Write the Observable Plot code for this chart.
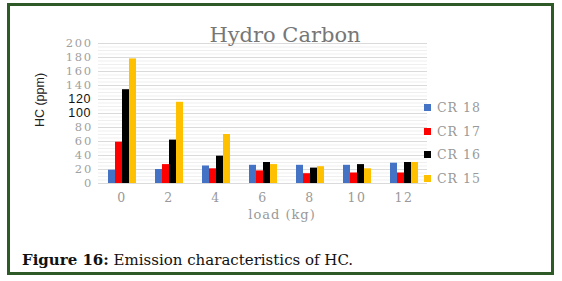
<!DOCTYPE html>
<html>
<head>
<meta charset="utf-8">
<script src="https://cdn.jsdelivr.net/npm/d3@7"></script>
<script src="https://cdn.jsdelivr.net/npm/@observablehq/plot@0.6"></script>
<style>
  html, body { margin: 0; padding: 0; background: #fff; }
  #wrap { position: relative; width: 562px; height: 281px; overflow: hidden; }
  #frame { position: absolute; left: 7px; top: 3px; width: 541px; height: 266px; border: 3px solid #2d5a27; box-sizing: content-box; }
  #title { position: absolute; left: 0; width: 570px; top: 23px; text-align: center; font-family: "DejaVu Serif", serif; font-size: 21px; color: #777; }
  #ytitle { position: absolute; left: 40px; top: 100px; transform: translate(-50%, -50%) rotate(-90deg); font-family: "Liberation Sans", Arial, sans-serif; font-size: 12.5px; color: #222; white-space: nowrap; }
  #xtitle { position: absolute; left: 0; width: 564px; top: 207px; text-align: center; font-family: "DejaVu Serif", serif; font-size: 13px; letter-spacing: 1px; color: #999; }
  #legend { position: absolute; left: 424px; top: 96px; font-family: "DejaVu Serif", serif; font-size: 12.5px; letter-spacing: 1px; color: #999; }
  .li { display: flex; align-items: center; height: 23.5px; }
  .sw { width: 7px; height: 7px; margin-right: 6px; }
  #caption { position: absolute; left: 22px; top: 251px; font-family: "DejaVu Serif", serif; font-size: 15px; color: #111; white-space: nowrap; }
  #chart { position: absolute; left: 0; top: 0; }
</style>
</head>
<body>
<div id="wrap">
  <div id="chart"></div>
  <div id="frame"></div>
  <div id="title">Hydro Carbon</div>
  <div id="ytitle">HC (ppm)</div>
  <div id="xtitle">load (kg)</div>
  <div id="legend"></div>
  <div id="caption"><b>Figure 16:</b> Emission characteristics of HC.</div>
</div>
<script>
const loads = ["0", "2", "4", "6", "8", "10", "12"];
const seriesNames = ["CR 18", "CR 17", "CR 16", "CR 15"];
const colors = ["#4472c4", "#ff0000", "#000000", "#ffc000"];
const cr18 = [19, 20, 25, 26, 26, 26, 29];
const cr17 = [59, 27, 21, 18, 14, 15, 15];
const cr16 = [134, 62, 39, 30, 22, 27, 30];
const cr15 = [178, 116, 70, 27, 24, 21, 30];
const yTicks = [0, 20, 40, 60, 80, 100, 120, 140, 160, 180, 200];
const minorTicks = d3.range(0, 201, 5);

const seriesValues = [cr18, cr17, cr16, cr15];
const rows = [];
loads.forEach((l, i) => {
  seriesNames.forEach((s, j) => rows.push({load: l, series: s, value: seriesValues[j][i]}));
});

const chart = Plot.plot({
  width: 562,
  height: 281,
  marginLeft: 98,
  marginRight: 135,
  marginTop: 43,
  marginBottom: 98,
  style: {fontFamily: "DejaVu Serif, serif", fontSize: "12.5px", color: "#999", background: "transparent", letterSpacing: "1.5px"},
  fx: {domain: loads, padding: 0, label: null, axis: "bottom", tickSize: 0, tickPadding: 10},
  x: {domain: seriesNames, paddingInner: 0, paddingOuter: 1.35, axis: null},
  y: {domain: [0, 200], ticks: yTicks, label: null, axis: null},
  color: {domain: seriesNames, range: colors},
  marks: [
    Plot.ruleY(minorTicks, {stroke: "#efefef", strokeWidth: 1}),
    Plot.ruleY(yTicks, {stroke: "#dadada", strokeWidth: 1}),
    Plot.barY(rows, {fx: "load", x: "series", y: "value", fill: "series"}),
  ]
});
document.getElementById("chart").appendChild(chart);

// y axis labels drawn with the y scale
const yScale = chart.scale("y");
const svg = d3.select(chart);
const yg = svg.append("g");
yTicks.forEach(t => {
  const dark = (t === 100 || t === 120);
  yg.append("text")
    .attr("x", dark ? 91 : 93)
    .attr("y", yScale.apply(t))
    .attr("dy", "0.35em")
    .attr("text-anchor", "end")
    .attr("font-family", dark ? "Liberation Sans, Arial, sans-serif" : "DejaVu Serif, serif")
    .attr("font-size", dark ? 12.5 : 11.5)
    .attr("letter-spacing", dark ? "0.6px" : "1.8px")
    .attr("fill", dark ? "#111" : "#a0a0a0")
    .text(t);
});

const legend = d3.select("#legend");
seriesNames.forEach((s, i) => {
  const row = legend.append("div").attr("class", "li");
  row.append("div").attr("class", "sw").style("background", colors[i]);
  row.append("span").text(s);
});
</script>
</body>
</html>
